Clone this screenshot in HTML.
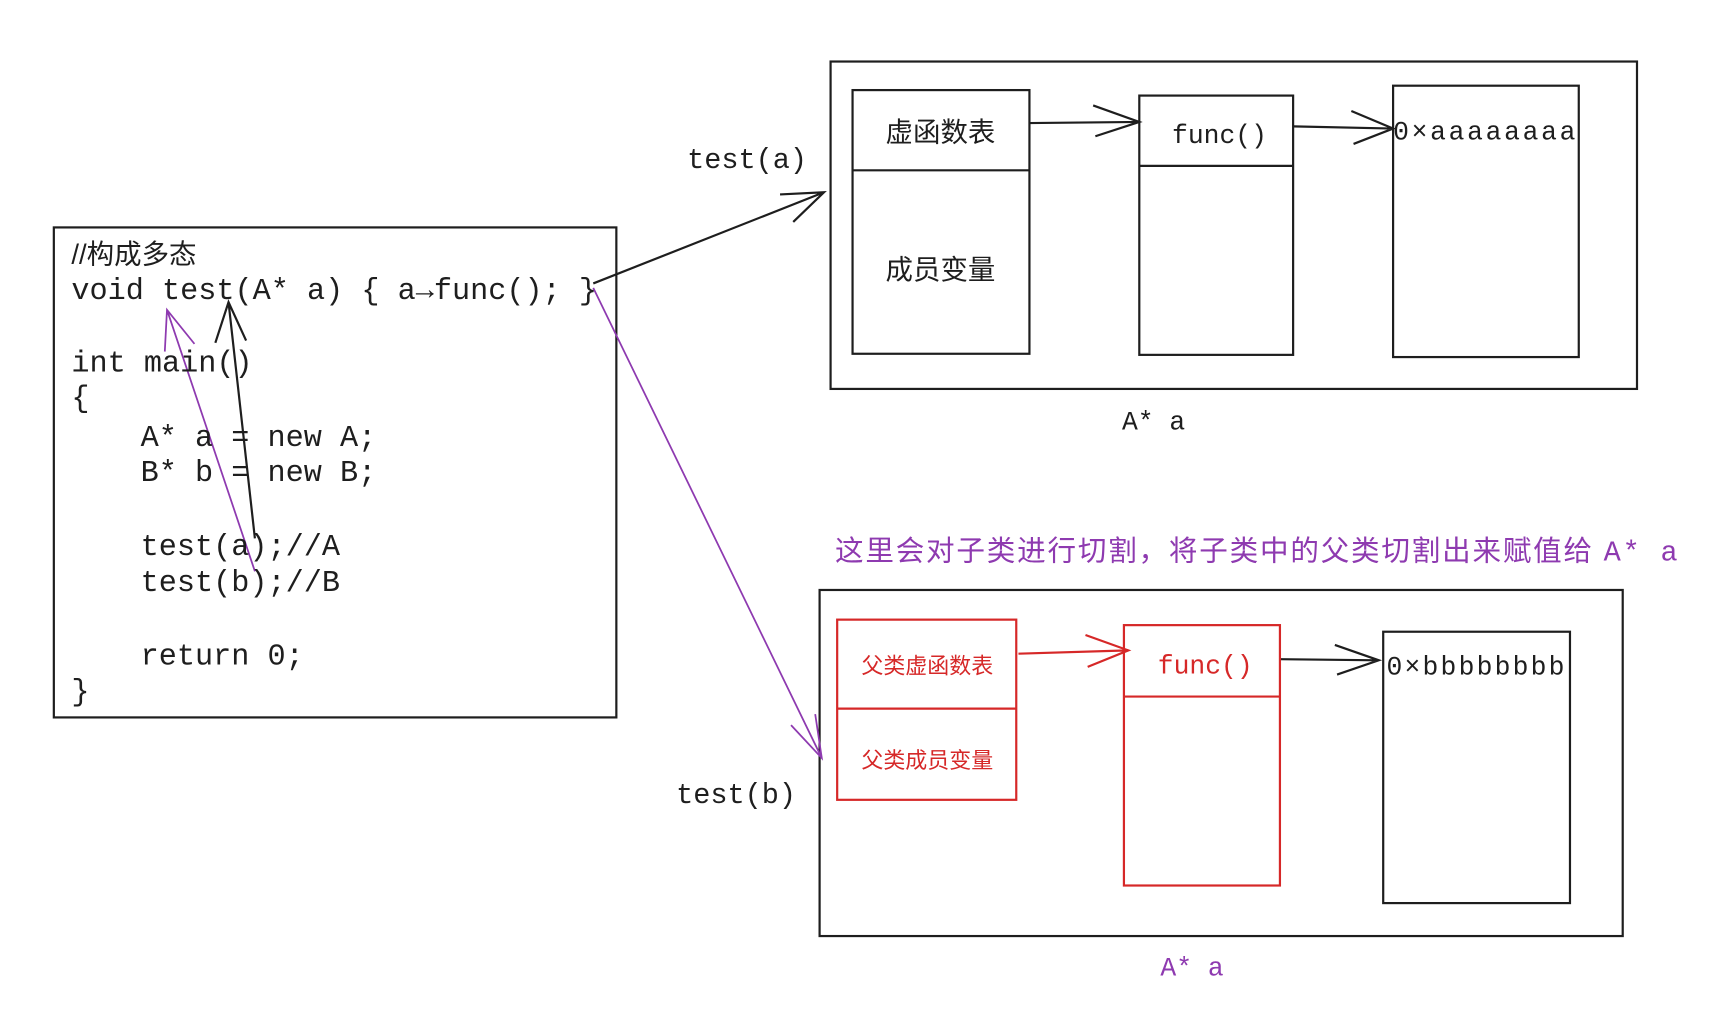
<!DOCTYPE html>
<html><head><meta charset="utf-8"><style>
html,body{margin:0;padding:0;background:#fff;}
svg{display:block;}
.m{font-family:"Liberation Mono","Noto Sans CJK SC",monospace;}
.c{font-family:"Liberation Sans","Noto Sans CJK SC",sans-serif;}
</style></head><body>
<svg width="1715" height="1019" viewBox="0 0 1561 927.5" xmlns="http://www.w3.org/2000/svg">
<rect width="1561" height="928" fill="#fff"/>
<g fill="none" stroke="#1e1e1e" stroke-width="2">
<rect x="49" y="207" width="512" height="446"/>
<rect x="756" y="56" width="734" height="298"/>
<rect x="776" y="82" width="161" height="240"/><line x1="776" y1="155" x2="937" y2="155"/>
<rect x="1037" y="87" width="140" height="236"/><line x1="1037" y1="151" x2="1177" y2="151"/>
<rect x="1268" y="78" width="169" height="247"/>
<path d="M937 112 L1037 111 M995 96 L1037 111 L997 124"/>
<path d="M1177 115 L1268 117 M1230 101 L1268 117 L1232 131"/>
<path d="M540 258 L750 175 M710 177 L750 175 L722 202"/>
<path d="M232 490 L208 275 M196 312 L208 275 L224 310"/>
<rect x="746" y="537" width="731" height="315"/>
<rect x="1259" y="575" width="170" height="247"/>
<path d="M1165 600 L1255 601 M1215 587 L1255 601 L1217 614"/>
</g>
<g fill="none" stroke="#d62828" stroke-width="2">
<rect x="762" y="564" width="163" height="164"/><line x1="762" y1="645" x2="925" y2="645"/>
<rect x="1023" y="569" width="142" height="237"/><line x1="1023" y1="634" x2="1165" y2="634"/>
<path d="M927 595 L1027 592 M988 578 L1027 592 L990 607"/>
</g>
<g fill="none" stroke="#8e3ab0" stroke-width="1.6">
<path d="M540 262 L748 690 M720 660 L748 690 L742 650"/>
<path d="M232 520 L152 282 M150 320 L152 282 L177 313"/>
</g>
<g class="m" font-size="27.5" fill="#1e1e1e">
<text x="65" y="240" class="c" font-size="25">//构成多态</text>
<text x="65" y="272">void test(A* a) { a→func(); }</text>
<text x="65" y="338">int main()</text>
<text x="65" y="370">{</text>
<text x="128" y="406">A* a = new A;</text>
<text x="128" y="438">B* b = new B;</text>
<text x="128" y="505">test(a);//A</text>
<text x="128" y="538">test(b);//B</text>
<text x="128" y="605">return 0;</text>
<text x="65" y="637">}</text>
<text x="680" y="153" text-anchor="middle" font-size="26">test(a)</text>
<text x="1050" y="391" text-anchor="middle" font-size="24">A* a</text>
<text x="670" y="731" text-anchor="middle" font-size="26">test(b)</text>
<text x="1110" y="130" text-anchor="middle" font-size="24">func()</text>
<text x="1268" y="127" font-size="24" textLength="166">0×aaaaaaaa</text>
<text x="1262" y="614" font-size="24" textLength="162">0×bbbbbbbb</text>
<text x="1097" y="613" text-anchor="middle" font-size="24" fill="#d62828">func()</text>
<text x="1085" y="888" text-anchor="middle" font-size="24" fill="#8e3ab0">A* a</text>
</g>
<g class="c" fill="#1e1e1e" font-size="25" text-anchor="middle">
<text x="856" y="129">虚函数表</text>
<text x="856" y="254">成员变量</text>
</g>
<g class="c" fill="#d62828" font-size="20" text-anchor="middle">
<text x="844" y="613">父类虚函数表</text>
<text x="844" y="699">父类成员变量</text>
</g>
<text x="760" y="510" class="c" font-size="26" fill="#8e3ab0" textLength="767" lengthAdjust="spacing">这里会对子类进行切割，将子类中的父类切割出来赋值给 <tspan class="m">A* a</tspan></text>
</svg>
</body></html>
